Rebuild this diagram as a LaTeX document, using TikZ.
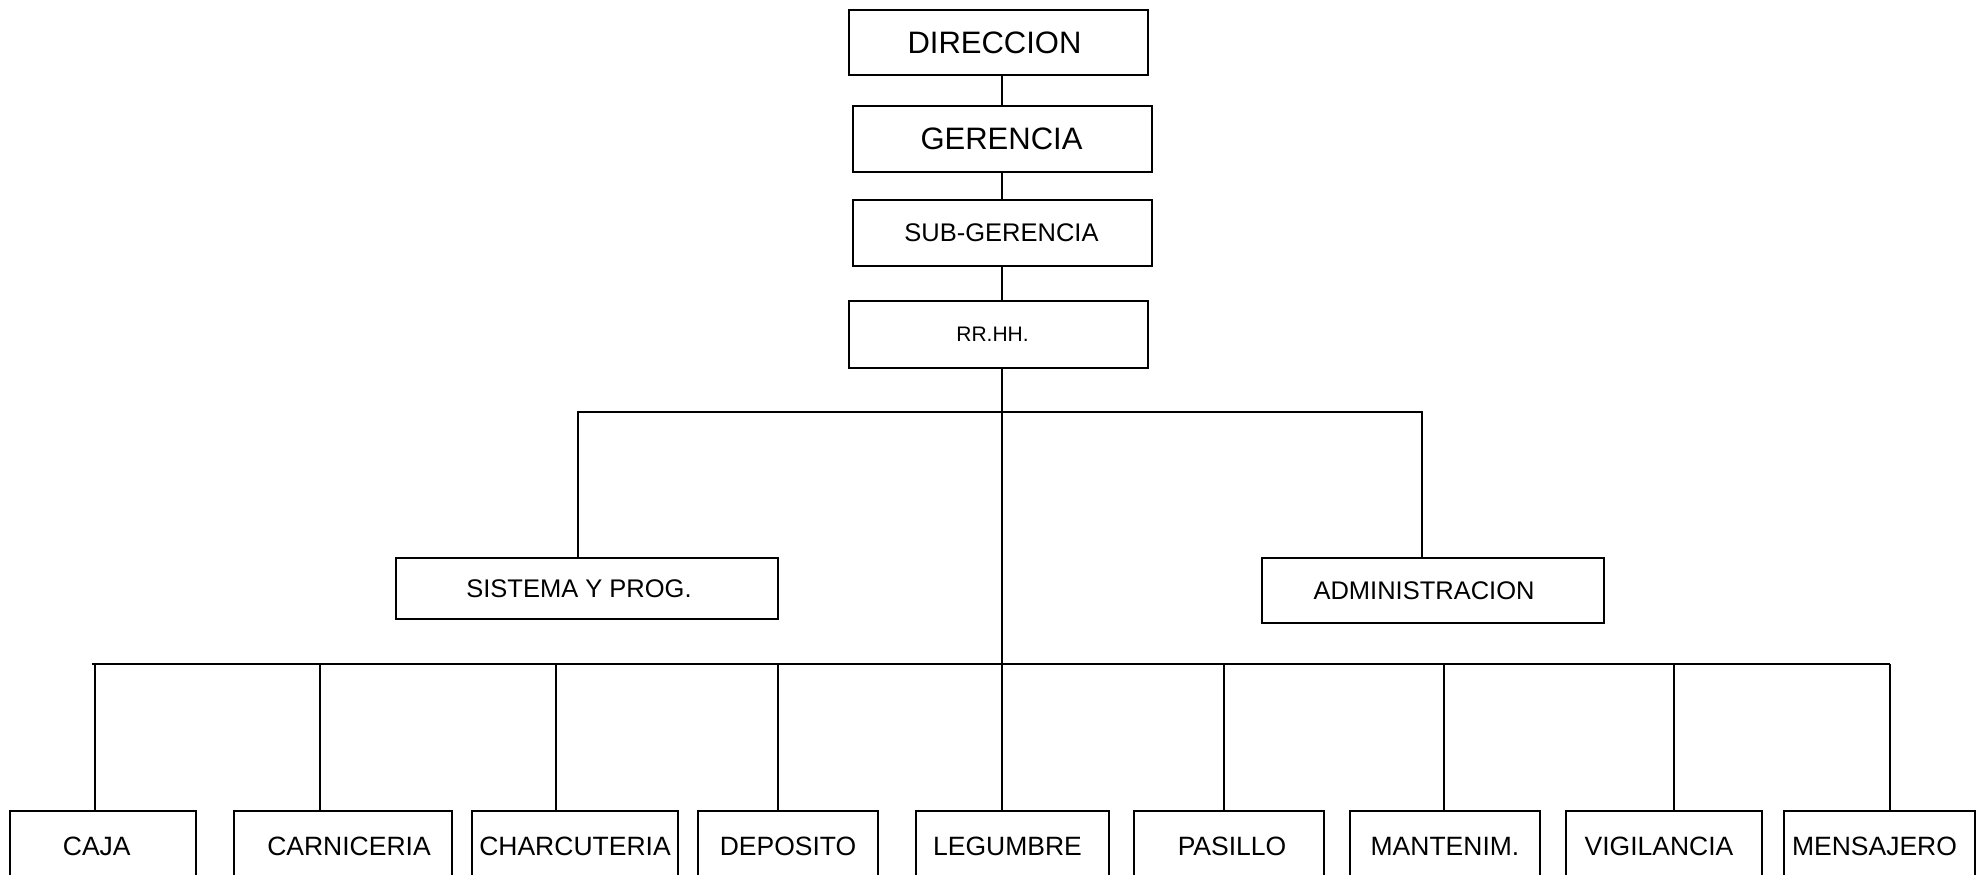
\documentclass[tikz,border=0pt]{standalone}
\usepackage{fontspec}
\setmainfont{Liberation Sans}
\begin{document}
\begin{tikzpicture}[x=1pt,y=-1pt,
  line width=2pt,
  box/.style={draw=black, line width=2pt, inner sep=0pt, align=center, font=\fontsize{25.5}{28}\selectfont},
  bigbox/.style={box, font=\fontsize{31}{34}\selectfont},
  smallbox/.style={box, font=\fontsize{21}{24}\selectfont},
  lowbox/.style={box, minimum height=70pt, font=\fontsize{26.5}{28}\selectfont}
]
\useasboundingbox (0,0) rectangle (1978,875);
\fill[white] (0,0) rectangle (1978,875);

% top chain
\node[bigbox, minimum width=299pt, minimum height=65pt] (dir) at (998.5,42.5) {DIRECCION\hspace*{8pt}};
\node[bigbox, minimum width=299pt, minimum height=66pt] (ger) at (1002.5,139) {GERENCIA\hspace*{2pt}};
\node[box, minimum width=299pt, minimum height=66pt] (sub) at (1002.5,233) {SUB-GERENCIA\hspace*{2pt}};
\node[smallbox, minimum width=299pt, minimum height=67pt] (rrhh) at (998.5,334.5) {RR.HH.\hspace*{12pt}};

% second level
\node[box, minimum width=382pt, minimum height=61pt] (sis) at (587,588.5) {SISTEMA Y PROG.\hspace*{16pt}};
\node[box, minimum width=342pt, minimum height=65pt] (adm) at (1433,590.5) {ADMINISTRACION\hspace*{18pt}};

% bottom row
\node[lowbox, minimum width=185.5pt] (caja)  at (102.75,846) {CAJA\hspace*{12pt}};
\node[lowbox, minimum width=218pt]   (carn)  at (343,846)    {\hspace*{12pt}CARNICERIA};
\node[lowbox, minimum width=206pt]   (charc) at (575,846)    {CHARCUTERIA};
\node[lowbox, minimum width=180pt]   (dep)   at (788,846)    {DEPOSITO};
\node[lowbox, minimum width=193pt]   (leg)   at (1012.5,846) {LEGUMBRE\hspace*{10pt}};
\node[lowbox, minimum width=190pt]   (pas)   at (1229,846)   {\hspace*{6pt}PASILLO};
\node[lowbox, minimum width=190pt]   (man)   at (1445,846)   {MANTENIM.};
\node[lowbox, minimum width=196pt]   (vig)   at (1664,846)   {VIGILANCIA\hspace*{10pt}};
\node[lowbox, minimum width=191pt]   (men)   at (1879.5,846) {MENSAJERO\hspace*{10pt}};

% connector coordinates
\coordinate (spine) at (1002,664);
\coordinate (hl) at (578,412);
\coordinate (hr) at (1422,412);
\coordinate (busL) at (91.5,664);
\coordinate (busR) at (1890,664);

% top connectors
\draw (dir.south -| spine) -- (ger.north -| spine);
\draw (ger.south -| spine) -- (sub.north -| spine);
\draw (sub.south -| spine) -- (rrhh.north -| spine);
\draw (rrhh.south -| spine) -- (leg.north -| spine);

% second level connectors
\draw (sis.north -| hl) -- (hl) -- (hr) -- (adm.north -| hr);

% bus
\draw (busL) -- (busR);
\foreach \n/\x in {caja/95, carn/320, charc/556, dep/778, pas/1224, man/1444, vig/1674, men/1890}{
  \coordinate (t\n) at (\x,664);
  \draw (t\n) -- (t\n |- \n.north);
}
\end{tikzpicture}
\end{document}
